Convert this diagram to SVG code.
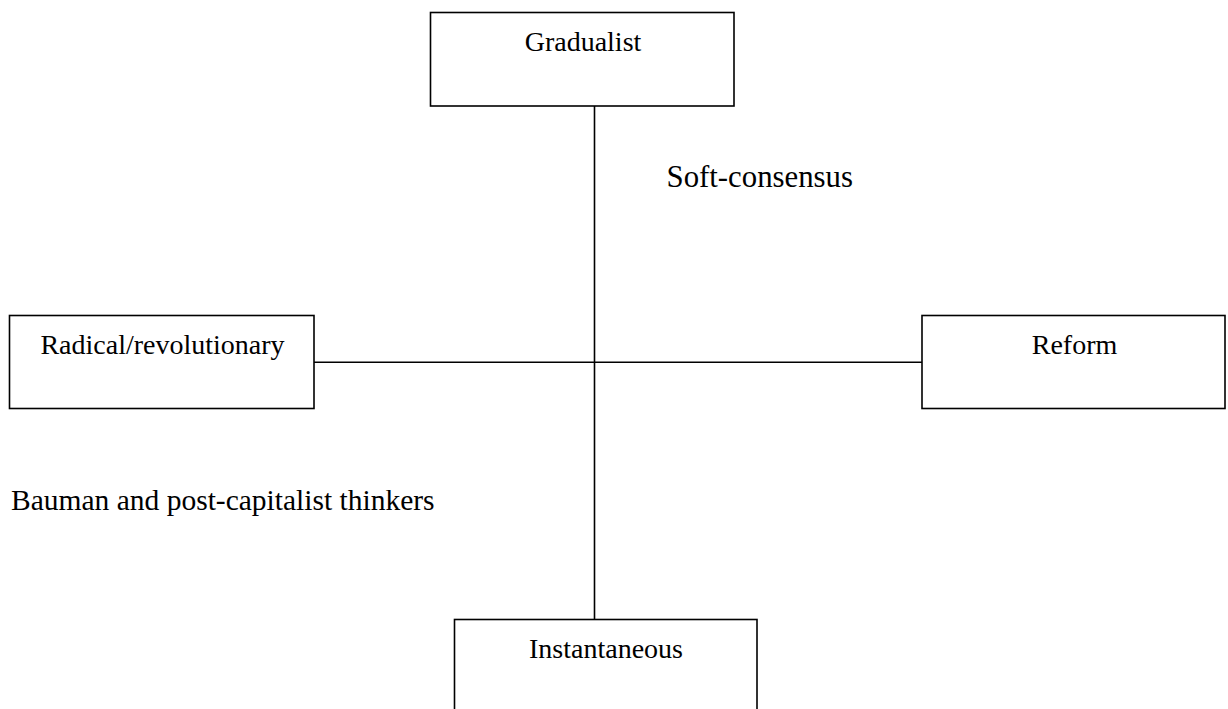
<svg xmlns="http://www.w3.org/2000/svg" width="1228" height="709" viewBox="0 0 1228 709">
<style>
.box{fill:#fff;stroke:#000;stroke-width:1.6}
.ln{stroke:#000;stroke-width:1.6;fill:none}
text{font-family:"Liberation Serif","Times New Roman",serif;font-size:28px;fill:#000}
.c{text-anchor:middle}
</style>
<rect width="1228" height="709" fill="#fff"/>
<g id="connectors">
<line class="ln" x1="594.5" y1="106" x2="594.5" y2="619.5"/>
<line class="ln" x1="314" y1="362.3" x2="922" y2="362.3"/>
</g>
<g id="gradualist">
<rect class="box" x="430.5" y="12.5" width="303.5" height="93.5"/>
<text class="c" x="583" y="51">Gradualist</text>
</g>
<g id="radical">
<rect class="box" x="9.5" y="315.5" width="304.5" height="93"/>
<text class="c" x="162.5" y="354">Radical/revolutionary</text>
</g>
<g id="reform">
<rect class="box" x="922" y="315.5" width="303" height="93"/>
<text class="c" x="1074.5" y="354">Reform</text>
</g>
<g id="instantaneous">
<rect class="box" x="454.5" y="619.5" width="302.5" height="100"/>
<text class="c" x="606" y="658">Instantaneous</text>
</g>
<g id="labels">
<text x="666.5" y="187" style="font-size:30.8px">Soft-consensus</text>
<text x="11" y="510" style="font-size:29.5px">Bauman and post-capitalist thinkers</text>
</g>
</svg>
